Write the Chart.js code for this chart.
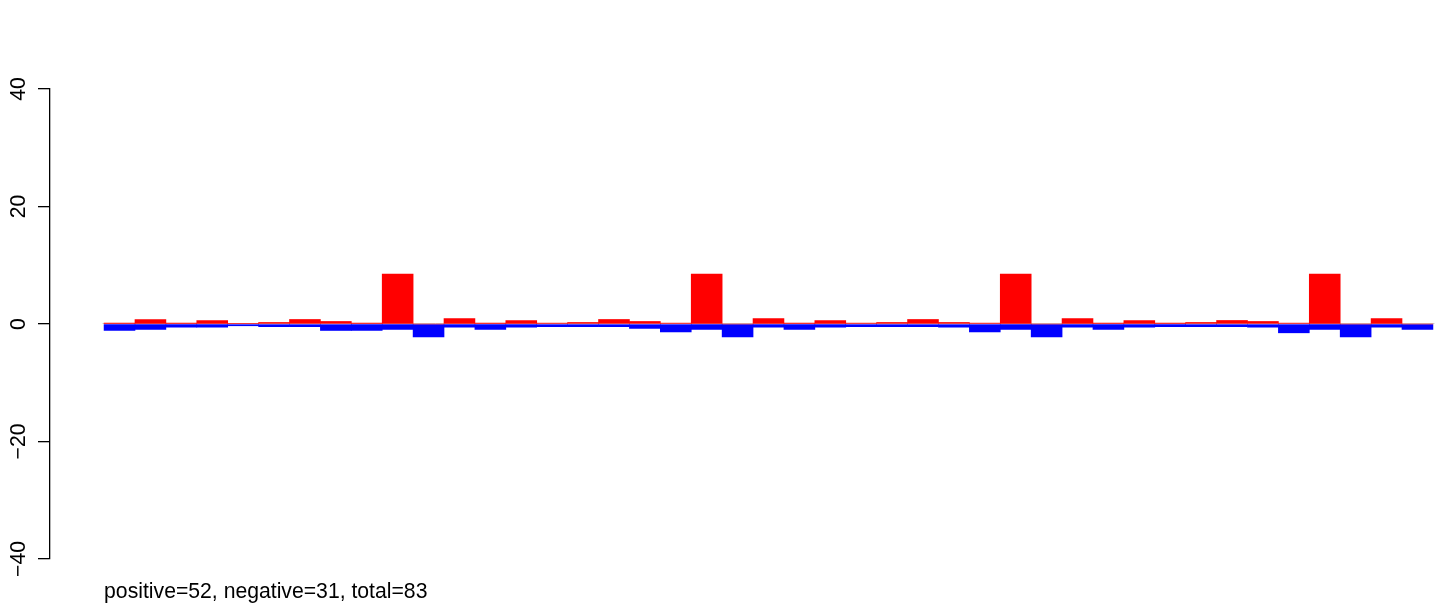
<!DOCTYPE html>
<html>
<head>
<meta charset="utf-8">
<script src="https://cdn.jsdelivr.net/npm/chart.js@4"></script>
<style>
  html, body { margin: 0; padding: 0; background: #fff; }
  #wrap { width: 1436px; height: 603px; position: relative; }
</style>
</head>
<body>
<div id="wrap"><canvas id="myChart"></canvas></div>
<script>
// bar positions (one slot per window)
const positions = [0, 1, 2, 3, 4, 5, 6, 7, 8, 9,
                   10, 11, 12, 13, 14, 15, 16, 17, 18, 19,
                   20, 21, 22, 23, 24, 25, 26, 27, 28, 29,
                   30, 31, 32, 33, 34, 35, 36, 37, 38, 39,
                   40, 41, 42];
const positiveValues = [0.14, 0.77, 0.15, 0.6, 0.1, 0.26, 0.77, 0.43, 0.15, 8.5,
                        0, 0.94, 0.15, 0.6, 0.15, 0.26, 0.77, 0.43, 0.15, 8.5,
                        0, 0.94, 0.15, 0.6, 0.15, 0.26, 0.77, 0.26, 0.15, 8.5,
                        0, 0.94, 0.15, 0.6, 0.15, 0.26, 0.6, 0.43, 0.15, 8.5,
                        0, 0.94, 0];
const negativeValues = [-1.1, -0.94, -0.54, -0.54, -0.3, -0.45, -0.45, -1.1, -1.1, -0.94,
                        -2.2, -0.54, -0.94, -0.54, -0.45, -0.45, -0.45, -0.75, -1.35, -0.94,
                        -2.2, -0.54, -0.94, -0.54, -0.45, -0.45, -0.45, -0.54, -1.35, -0.94,
                        -2.2, -0.54, -0.94, -0.54, -0.45, -0.45, -0.45, -0.54, -1.5, -0.94,
                        -2.2, -0.54, -0.94];
const yTicks = [-40, -20, 0, 20, 40];
const caption = 'positive=52, negative=31, total=83';

const labelFont = '21.2px "Liberation Sans", Arial, Helvetica, sans-serif';

// R-style extras: rotated y labels, faint zero line, caption under the plot
const rStylePlugin = {
    id: 'rStyle',
    beforeDatasetsDraw(chart) {
        const { ctx, scales: { x, y } } = chart;
        const y0 = Math.round(y.getPixelForValue(0)) - 0.5;
        ctx.save();
        ctx.strokeStyle = '#cccccc';
        ctx.lineWidth = 1;
        ctx.beginPath();
        ctx.moveTo(x.getPixelForValue(positions[0] - 0.55), y0);
        ctx.lineTo(x.getPixelForValue(positions[positions.length - 1] + 0.55), y0);
        ctx.stroke();
        ctx.restore();
    },
    afterDraw(chart) {
        const { ctx, scales: { x, y } } = chart;
        ctx.save();
        ctx.fillStyle = '#000';
        ctx.font = labelFont;
        ctx.textBaseline = 'alphabetic';
        ctx.textAlign = 'center';
        yTicks.forEach(v => {
            ctx.save();
            ctx.translate(y.left - 13, y.getPixelForValue(v));
            ctx.rotate(-Math.PI / 2);
            ctx.fillText(v < 0 ? '\u2212' + Math.abs(v) : String(v), 0, 0);
            ctx.restore();
        });
        ctx.textAlign = 'left';
        ctx.fillText(caption, x.getPixelForValue(positions[0] - 0.5), 598);
        ctx.restore();
    }
};

new Chart('myChart', {
    type: 'bar',
    data: {
        datasets: [{
            data: positions.map((p, i) => ({ x: p, y: positiveValues[i] })),
            backgroundColor: '#ff0000',
            borderWidth: 0,
            grouped: false,
            barPercentage: 1,
            categoryPercentage: 1
        }, {
            data: positions.map((p, i) => ({ x: p, y: negativeValues[i] })),
            backgroundColor: '#0000ff',
            borderWidth: 0,
            grouped: false,
            barPercentage: 1,
            categoryPercentage: 1
        }]
    },
    options: {
        responsive: true,
        maintainAspectRatio: false,
        animation: false,
        layout: {
            padding: { left: 38, right: 0, top: 89, bottom: 44 }
        },
        plugins: {
            legend: { display: false },
            tooltip: { enabled: false }
        },
        scales: {
            x: {
                type: 'linear',
                min: -2.25,
                max: 42.6,
                offset: false,
                display: false
            },
            y: {
                min: -40,
                max: 40,
                afterBuildTicks: scale => {
                    scale.ticks = yTicks.map(v => ({ value: v }));
                },
                ticks: { display: false },
                grid: {
                    drawOnChartArea: false,
                    tickLength: 12,
                    color: '#000',
                    lineWidth: 1.3
                },
                border: { color: '#000', width: 1.3 }
            }
        }
    },
    plugins: [rStylePlugin]
});
</script>
</body>
</html>
